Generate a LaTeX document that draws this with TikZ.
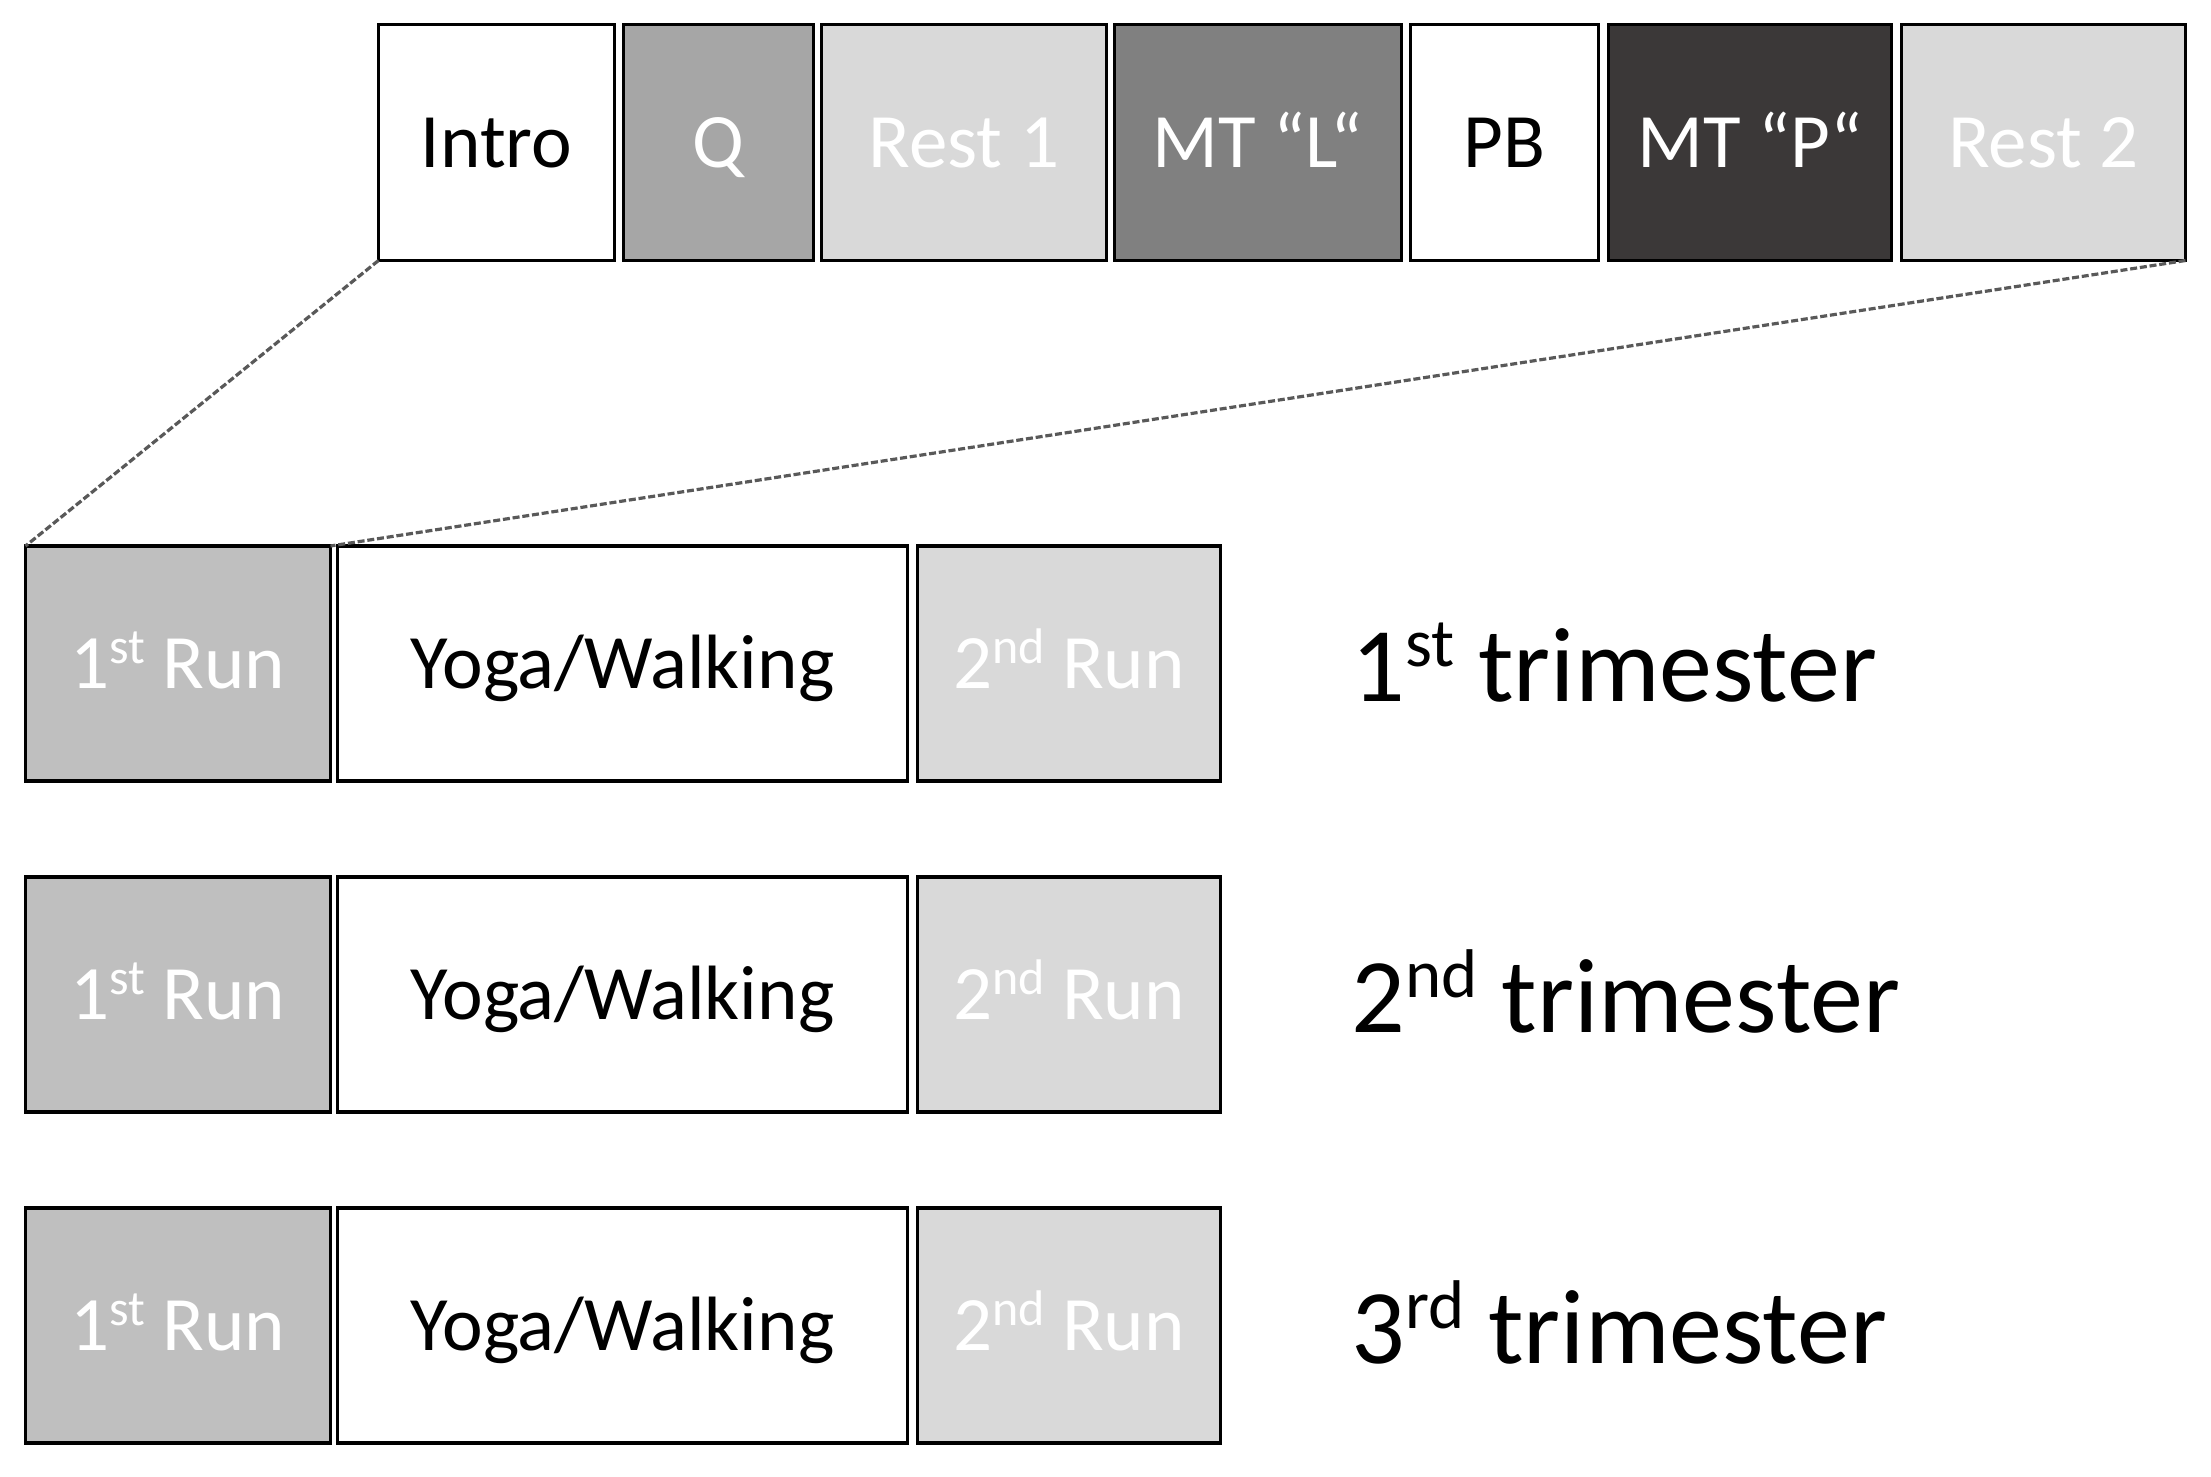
\documentclass[tikz,border=0pt]{standalone}
\usepackage{fontspec}
\setmainfont{Carlito}
\makeatletter
\newcommand{\supt}[1]{\raisebox{0.33em}{\dimen@=0.65\dimexpr\f@size pt\relax
  \fontsize{\strip@pt\dimen@}{\strip@pt\dimen@}\selectfont #1}}
\makeatother
\definecolor{cQ}{HTML}{A6A6A6}
\definecolor{cRest}{HTML}{D9D9D9}
\definecolor{cMTL}{HTML}{808080}
\definecolor{cMTP}{HTML}{3B3838}
\definecolor{cRunA}{HTML}{BFBFBF}
\definecolor{cRunB}{HTML}{D9D9D9}
\definecolor{cDash}{HTML}{595959}
\begin{document}
\begin{tikzpicture}[x=0.5pt,y=-0.5pt,
  blk/.style={draw=black, line width=1.9pt, inner sep=0pt, outer sep=0pt,
    font=\fontsize{38.5}{46}\selectfont, text height=25pt, text depth=0pt},
  toprow/.style={blk, minimum height=118pt},
  runrow/.style={blk, minimum height=117.5pt},
  wtext/.style={text=white},
  tri/.style={inner sep=0pt, anchor=base west, font=\fontsize{53}{64}\selectfont},
  zoomline/.style={draw=cDash, line width=1.6pt, dash pattern=on 3.5pt off 1.4pt}]
\useasboundingbox (0,0) rectangle (2211,1477);
% top row
\node[toprow, fill=white, minimum width=118pt] (intro) at (496.5,142.5) {Intro};
\node[toprow, fill=cQ, wtext, minimum width=95pt] (q) at (718.5,142.5) {Q};
\node[toprow, fill=cRest, wtext, minimum width=142.5pt] (rest1) at (964,142.5) {Rest 1};
\node[toprow, fill=cMTL, wtext, minimum width=143.5pt] (mtl) at (1258,142.5) {MT “L“};
\node[toprow, fill=white, minimum width=94pt] (pb) at (1504.5,142.5) {PB};
\node[toprow, fill=cMTP, wtext, minimum width=141.5pt] (mtp) at (1750,142.5) {MT “P“};
\node[toprow, fill=cRest, wtext, minimum width=142pt] (rest2) at (2043.5,142.5) {Rest 2};
% rows
\foreach \r/\yc/\ord/\sup in {1/663.5/1/st, 2/994.5/2/nd, 3/1325.5/3/rd} {
  \node[runrow, fill=cRunA, wtext, minimum width=152.5pt] (runa\r) at (178,\yc) {1\supt{st} Run};
  \node[runrow, fill=white, minimum width=285pt] (yoga\r) at (622.5,\yc) {Yoga/Walking};
  \node[runrow, fill=cRunB, wtext, minimum width=151.5pt] (runb\r) at (1069,\yc) {2\supt{nd} Run};
  \node[tri] (tri\r) at (1351,\yc+37.5) {\ord\supt{\sup} trimester};
}
% zoom lines
\draw[zoomline] (intro.south west) -- (runa1.north west);
\draw[zoomline] (rest2.south east) -- (runa1.north east);
\end{tikzpicture}
\end{document}
